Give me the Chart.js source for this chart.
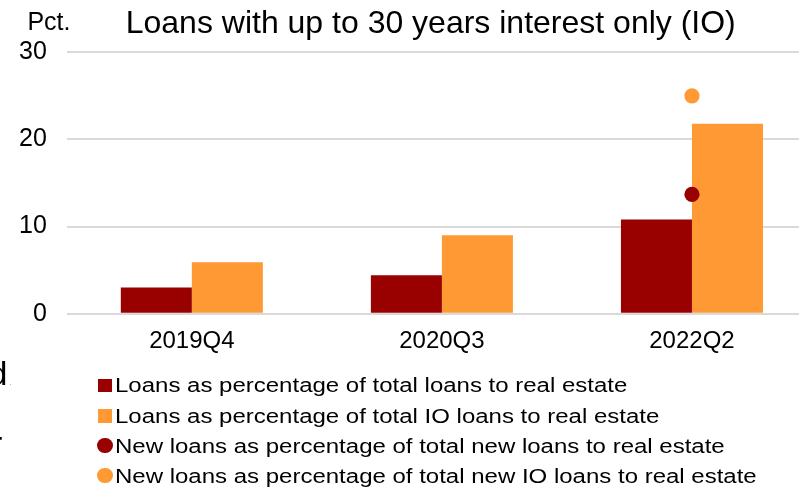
<!DOCTYPE html>
<html>
<head>
<meta charset="utf-8">
<script src="https://cdn.jsdelivr.net/npm/chart.js@4.4.1/dist/chart.umd.min.js"></script>
<style>
  html, body { margin: 0; padding: 0; background: #fff; overflow: hidden; }
  body { width: 799px; height: 489px; position: relative; font-family: "Liberation Sans", Arial, sans-serif; }
  #wrap { position: absolute; left: 0; top: 0; width: 830px; height: 489px; }
  #legend { position: absolute; left: 97px; top: 370.2px; font-size: 20px; line-height: 30.33px; color: #000; }
  #legend .row { white-space: nowrap; height: 30.33px; }
  #legend .mark { display: inline-block; vertical-align: baseline; }
  #legend .txt { display: inline-block; transform: scaleX(1.2); transform-origin: 0 50%; }
</style>
</head>
<body>
<div id="wrap"><canvas id="c"></canvas></div>
<div id="legend"></div>
<script>
const quarters = ['2019Q4', '2020Q3', '2022Q2'];
const shareOfRealEstate = [3.0, 4.4, 10.8];
const shareOfIoLoans = [5.9, 9.0, 21.8];
const newShareOfRealEstate = [null, null, 13.7];
const newShareOfIoLoans = [null, null, 25.0];
const yTicks = [0, 10, 20, 30];

const titleText = 'Loans with up to 30 years interest only (IO)';
const unitLabel = 'Pct.';
const seriesNames = [
  'Loans as percentage of total loans to real estate',
  'Loans as percentage of total IO loans to real estate',
  'New loans as percentage of total new loans to real estate',
  'New loans as percentage of total new IO loans to real estate'
];

const DARK = '#990000';
const ORANGE = '#ff9933';
const FONT = '"Liberation Sans", Arial, sans-serif';

Chart.defaults.font.family = FONT;
Chart.defaults.color = '#000';

// Title, unit label and the clipped text that bleeds in from the left margin.
const headingPlugin = {
  id: 'heading',
  afterDraw(chart) {
    const ctx = chart.ctx;
    ctx.save();
    ctx.fillStyle = '#000';
    ctx.textAlign = 'left';
    ctx.textBaseline = 'alphabetic';
    ctx.font = '25px ' + FONT;
    ctx.fillText(unitLabel, 27.4, 30);
    ctx.font = '32px ' + FONT;
    ctx.fillText(titleText, 125.7, 33.3);
    ctx.font = '34px ' + FONT;
    ctx.fillText('d', -11.5, 385);
    ctx.fillText('r', -9, 455);
    ctx.font = '6px ' + FONT;
    ctx.fillText('.', 9.6, 385);
    ctx.restore();
  }
};

function bars(label, data, color) {
  return { label, data, backgroundColor: color, borderWidth: 0, order: 1 };
}
function dots(label, data, color) {
  return {
    type: 'line', label, data, showLine: false, order: 0,
    pointRadius: 7.6, pointHoverRadius: 7.6, pointBorderWidth: 0,
    pointBackgroundColor: color, backgroundColor: color, borderColor: color
  };
}

const chart = new Chart(document.getElementById('c'), {
  type: 'bar',
  data: {
    labels: quarters,
    datasets: [
      bars(seriesNames[0], shareOfRealEstate, DARK),
      bars(seriesNames[1], shareOfIoLoans, ORANGE),
      dots(seriesNames[2], newShareOfRealEstate, DARK),
      dots(seriesNames[3], newShareOfIoLoans, ORANGE)
    ]
  },
  options: {
    responsive: true,
    maintainAspectRatio: false,
    animation: false,
    layout: { padding: { top: 52.3, left: 19, right: 13, bottom: 133.5 } },
    datasets: { bar: { categoryPercentage: 0.568, barPercentage: 1 } },
    scales: {
      x: {
        grid: { display: false, drawTicks: false },
        border: { display: false },
        ticks: { font: { size: 24 }, padding: 13, color: '#000', maxRotation: 0 },
        afterFit: axis => { axis.height = 41.8; }
      },
      y: {
        min: 0, max: 30,
        afterBuildTicks: axis => { axis.ticks = yTicks.map(v => ({ value: v })); },
        grid: { color: '#d9d9d9', lineWidth: 2, drawTicks: false },
        border: { display: false },
        ticks: { font: { size: 25 }, padding: 20, color: '#000' },
        afterFit: axis => { axis.width = 47.8; }
      }
    },
    plugins: {
      legend: { display: false },
      tooltip: { enabled: true }
    }
  },
  plugins: [headingPlugin]
});

// Legend rows built from the datasets: squares for bars, circles for dots.
const legendEl = document.getElementById('legend');
chart.data.datasets.forEach(ds => {
  const row = document.createElement('div');
  row.className = 'row';
  const mark = document.createElement('span');
  mark.className = 'mark';
  mark.style.background = ds.backgroundColor;
  if (ds.type === 'line') {
    mark.style.width = mark.style.height = '15.3px';
    mark.style.borderRadius = '50%';
    mark.style.marginLeft = '0.3px';
    mark.style.marginRight = '2.4px';
  } else {
    mark.style.width = mark.style.height = '13.3px';
    mark.style.marginLeft = '1.3px';
    mark.style.marginRight = '3.4px';
  }
  const txt = document.createElement('span');
  txt.className = 'txt';
  txt.textContent = ds.label;
  row.appendChild(mark);
  row.appendChild(txt);
  legendEl.appendChild(row);
});
</script>
</body>
</html>
